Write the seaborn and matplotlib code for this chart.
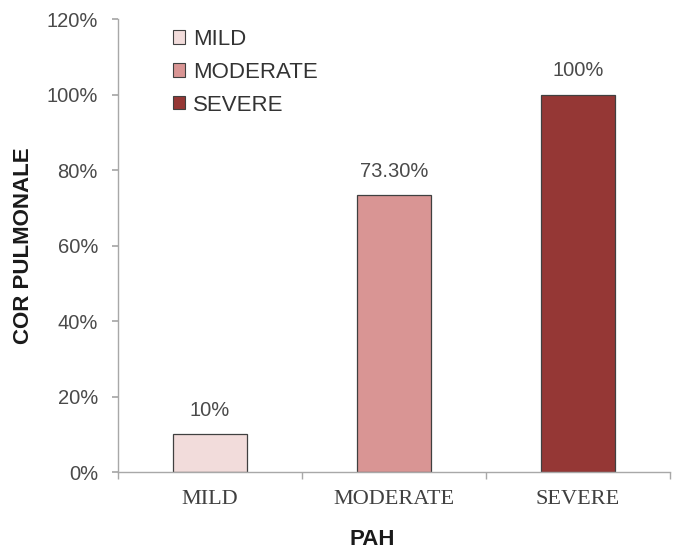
import matplotlib
matplotlib.use("Agg")
import matplotlib.pyplot as plt
import seaborn as sns
import pandas as pd
from matplotlib.ticker import FuncFormatter, FixedLocator
from matplotlib.patches import Patch

categories = ["MILD", "MODERATE", "SEVERE"]
values = [10.0, 73.3, 100.0]
value_labels = ["10%", "73.30%", "100%"]
colors = ["#f2dcdb", "#d99594", "#953735"]

df = pd.DataFrame({"PAH": categories, "value": values})

sns.set_theme(style="white")
plt.rcParams["font.family"] = ["Liberation Sans", "DejaVu Sans"]

fig = plt.figure(figsize=(6.85, 5.58), dpi=100)
ax = fig.add_axes([0.1723, 0.1541, 0.806, 0.8118])

sns.barplot(data=df, x="PAH", y="value", hue="PAH", palette=colors,
            order=categories, hue_order=categories, width=0.40, saturation=1,
            edgecolor="#404040", linewidth=0.9, legend=False, ax=ax)

ax.set_xlim(-0.5, 2.5)
ax.set_ylim(0, 120)
ax.set_yticks(range(0, 121, 20))
ax.yaxis.set_major_formatter(FuncFormatter(lambda v, p: f"{int(v)}%"))
ax.tick_params(axis="y", labelsize=14.5, labelcolor="#4a4a4a", length=4.5,
               color="#a8a8a8", direction="out", left=True, pad=10)

# category names in serif; group separators drawn as minor ticks
ax.set_xticks(range(len(categories)))
ax.set_xticklabels(categories, family=["Liberation Serif", "DejaVu Serif"],
                   fontsize=16, color="#404040")
ax.tick_params(axis="x", which="major", length=0, pad=13)
ax.xaxis.set_minor_locator(FixedLocator([-0.5, 0.5, 1.5, 2.5]))
ax.tick_params(axis="x", which="minor", length=5, color="#a8a8a8",
               direction="out", bottom=True)

for s in ["top", "right"]:
    ax.spines[s].set_visible(False)
for s in ["left", "bottom"]:
    ax.spines[s].set_color("#a8a8a8")
    ax.spines[s].set_linewidth(1.0)

ax.set_xlabel("PAH", fontsize=16, fontweight="bold", color="#1a1a1a", va="center")
ax.xaxis.set_label_coords(0.46, -0.150)
ax.set_ylabel("COR PULMONALE", fontsize=16, fontweight="bold", color="#1a1a1a", labelpad=9)

for i, (v, lab) in enumerate(zip(values, value_labels)):
    ax.text(i, v + 3.8, lab, ha="center", va="bottom", fontsize=14.5, color="#4a4a4a")

handles = [Patch(facecolor=c, edgecolor="#404040", linewidth=0.8) for c in colors]
leg = ax.legend(handles, categories, loc="upper left", bbox_to_anchor=(0.0996, 0.978),
                frameon=False, fontsize=16, handlelength=0.55, handleheight=0.55,
                handletextpad=0.35, labelspacing=0.53, borderpad=0, borderaxespad=0)
for t in leg.get_texts():
    t.set_color("#333333")

fig.savefig("out.png", dpi=100)
